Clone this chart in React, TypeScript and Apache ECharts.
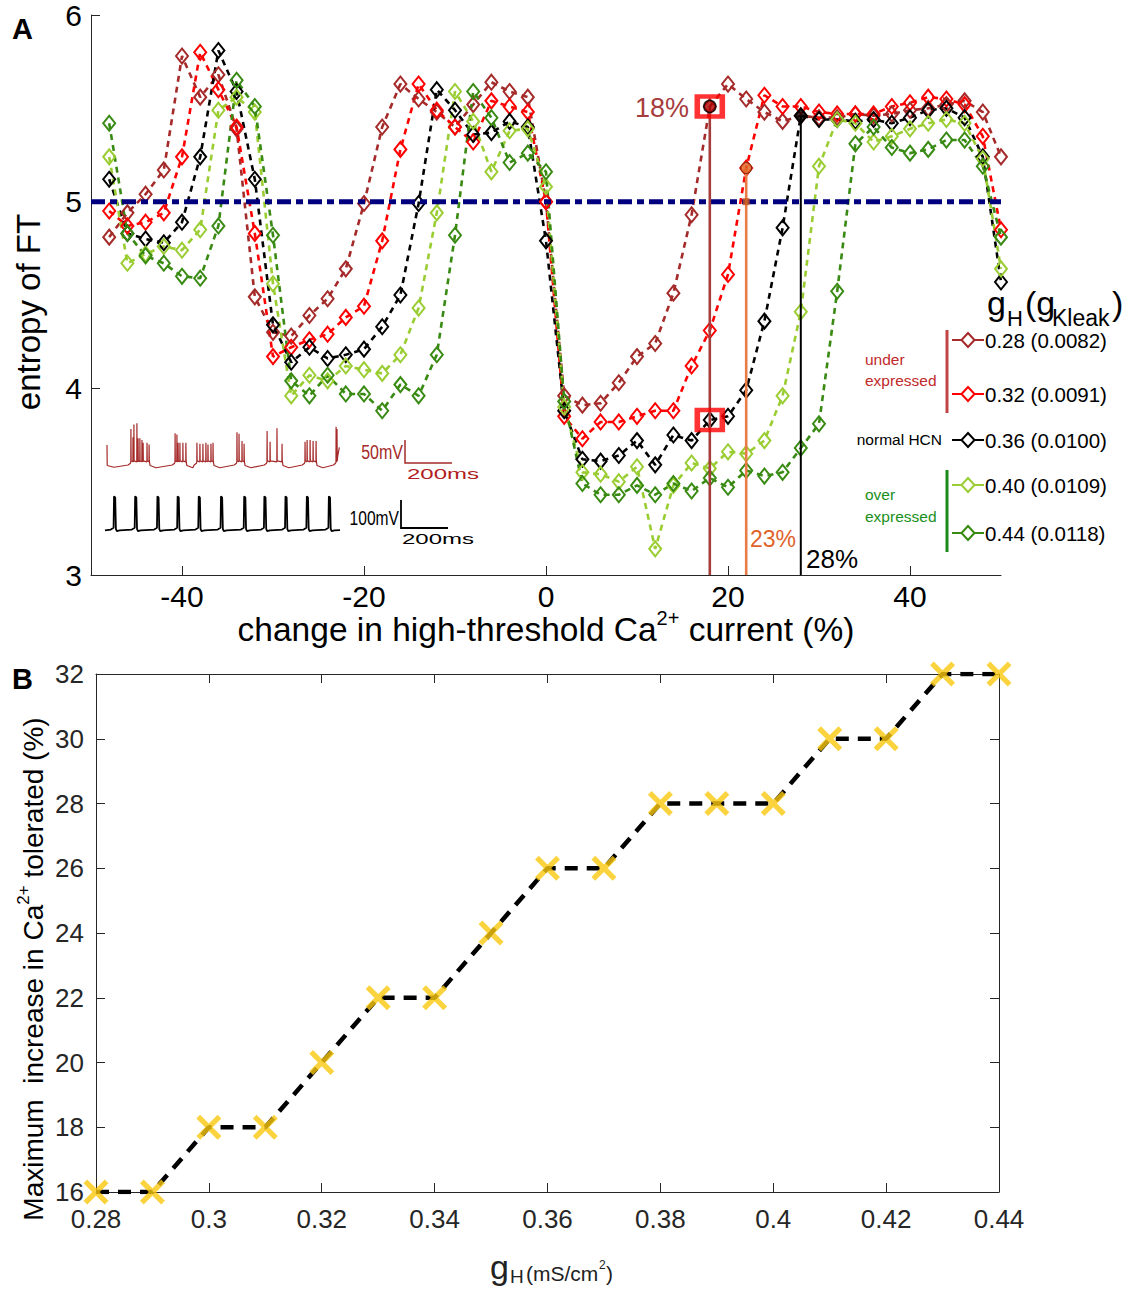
import React, { useEffect, useRef } from "react";
import * as echarts from "echarts";

const FONT = '"Liberation Sans", Arial, Helvetica, sans-serif';

// ---------------- Panel A data ----------------
const caChange = [-48, -46, -44, -42, -40, -38, -36, -34, -32, -30, -28, -26, -24, -22, -20, -18, -16, -14, -12, -10, -8, -6, -4, -2, 0, 2, 4, 6, 8, 10, 12, 14, 16, 18, 20, 22, 24, 26, 28, 30, 32, 34, 36, 38, 40, 42, 44, 46, 48, 50];

const ent028 = [4.81, 4.94, 5.04, 5.17, 5.78, 5.56, 5.68, 5.39, 4.49, 4.30,
  4.28, 4.39, 4.48, 4.64, 4.99, 5.40, 5.63, 5.55, 5.48, 5.40,
  5.52, 5.64, 5.59, 5.56, 5.00, 3.96, 3.91, 3.92, 4.03, 4.17,
  4.24, 4.51, 4.93, 5.51, 5.63, 5.55, 5.48, 5.43, 5.46, 5.45,
  5.45, 5.47, 5.46, 5.47, 5.49, 5.50, 5.52, 5.54, 5.48, 5.24];
const ent032 = [4.95, 4.87, 4.89, 4.94, 5.24, 5.80, 5.60, 5.40, 4.83, 4.17,
  4.22, 4.26, 4.29, 4.38, 4.44, 4.79, 5.28, 5.63, 5.49, 5.40,
  5.32, 5.54, 5.51, 5.48, 5.00, 3.85, 3.73, 3.82, 3.82, 3.85,
  3.88, 3.88, 4.12, 4.31, 4.61, 5.18, 5.57, 5.51, 5.51, 5.48,
  5.47, 5.47, 5.47, 5.51, 5.53, 5.56, 5.55, 5.52, 5.35, 4.85];
const ent036 = [5.12, 4.83, 4.80, 4.78, 4.89, 5.24, 5.81, 5.59, 5.12, 4.34,
  4.14, 4.22, 4.16, 4.18, 4.21, 4.33, 4.50, 4.99, 5.60, 5.49,
  5.36, 5.37, 5.43, 5.40, 4.79, 3.88, 3.62, 3.61, 3.64, 3.72,
  3.59, 3.75, 3.72, 3.83, 3.85, 3.99, 4.36, 4.86, 5.46, 5.44,
  5.44, 5.43, 5.44, 5.42, 5.45, 5.49, 5.50, 5.45, 5.24, 4.57];
const ent040 = [5.24, 4.67, 4.72, 4.76, 4.74, 4.85, 5.49, 5.56, 5.48, 4.56,
  3.96, 4.07, 4.04, 4.12, 4.10, 4.08, 4.18, 4.43, 4.94, 5.59,
  5.43, 5.16, 5.38, 5.39, 5.08, 3.90, 3.55, 3.54, 3.50, 3.58,
  3.14, 3.48, 3.60, 3.57, 3.66, 3.65, 3.72, 3.96, 4.41, 5.19,
  5.44, 5.42, 5.32, 5.35, 5.39, 5.42, 5.44, 5.42, 5.23, 4.64];
const ent044 = [5.42, 4.83, 4.71, 4.67, 4.60, 4.59, 4.87, 5.65, 5.51, 4.82,
  4.04, 3.96, 4.07, 3.97, 3.97, 3.88, 4.02, 3.96, 4.18, 4.82,
  5.59, 5.45, 5.21, 5.26, 5.16, 3.93, 3.49, 3.43, 3.43, 3.48,
  3.43, 3.49, 3.45, 3.52, 3.47, 3.56, 3.53, 3.55, 3.68, 3.81,
  4.52, 5.31, 5.40, 5.29, 5.26, 5.28, 5.33, 5.33, 5.19, 4.81];

const gHLabels = ["0.28", "0.32", "0.36", "0.40", "0.44"];
const gKleakLabels = ["0.0082", "0.0091", "0.0100", "0.0109", "0.0118"];
const seriesColors = ["#a52a2a", "#ff0000", "#000000", "#9acd32", "#388a12"];
const entropySeries = [ent028, ent032, ent036, ent040, ent044];

const xTicksA = [-40, -20, 0, 20, 40];
const entropyThreshold = 5.0;

// threshold markers: x position (%), entropy at top, label
const markX = [18, 22, 28];
const markY = [5.51, 5.18, 5.46];
const markLabels = ["18%", "23%", "28%"];
const boxedPoints = [[18, 5.51], [18, 3.83]];

// inset traces (spike times in ms, peaks in mV)
const blackSpikeTimes = [39, 130, 226, 313, 404, 500, 600, 687, 778, 870, 965];
const brownBursts = [
  [[104, 20], [113, 2], [117, 30], [130, 33], [135, 0], [143, 0], [152, -4], [157, -10], [174, -10], [183, -14]],
  [[296, 11], [304, 8], [309, -10], [317, -10], [330, -10], [343, -10]],
  [[391, -10], [404, -12], [417, -12], [430, -10], [439, -14], [452, -12], [461, -10]],
  [[565, 13], [574, 10], [587, -6], [596, -12]],
  [[696, 16], [709, -8], [739, 22], [761, -12]],
  [[861, -8], [870, -4], [883, -4], [896, -6], [909, -6]],
  [[996, 25], [1000, 20]],
];

// ---------------- Panel B data ----------------
const gH = [0.28, 0.29, 0.30, 0.31, 0.32, 0.33, 0.34, 0.35, 0.36, 0.37, 0.38, 0.39, 0.40, 0.41, 0.42, 0.43, 0.44];
const maxTolerated = [16, 16, 18, 18, 20, 22, 22, 24, 26, 26, 28, 28, 28, 30, 30, 32, 32];

const X_PATH = "path://M0,3 L3,0 L10,7 L17,0 L20,3 L13,10 L20,17 L17,20 L10,13 L3,20 L0,17 L7,10 Z";

function buildBlackTrace() {
  const pts: number[][] = [[0, -67]];
  blackSpikeTimes.forEach((t) => {
    pts.push([t - 14, -64], [t - 2, -58], [t, 55], [t + 5, 50], [t + 8, -62], [t + 12, -70], [t + 24, -67]);
  });
  pts.push([1013, -66]);
  return pts;
}

function buildBrownTrace() {
  const pts: number[][] = [[0, -15], [1, -60], [30, -64]];
  brownBursts.forEach((b, i) => {
    const t0 = b[0][0];
    const t1 = b[b.length - 1][0];
    pts.push([t0 - 12, -59], [t0 - 2, -55]);
    b.forEach(([t, p]) => {
      pts.push([t - 0.6, -52], [t, p], [t + 1, -50]);
    });
    if (i < brownBursts.length - 1) {
      pts.push([t1 + 4, -60], [t1 + 30, -65]);
    } else {
      pts.push([t1 + 3, -40], [1010, -20]);
    }
  });
  return pts;
}

const axisColor = "#262626";

export default function App() {
  const ref = useRef<HTMLDivElement>(null);
  useEffect(() => {
    if (!ref.current) return;
    const chart = echarts.init(ref.current, null, { renderer: "svg" });

    const seriesA = entropySeries.map((vals, k) => ({
      type: "line",
      xAxisIndex: 0,
      yAxisIndex: 0,
      silent: true,
      z: 2,
      data: caChange.map((x, i) => [x, vals[i]]),
      symbol: "diamond",
      symbolSize: [12, 15],
      lineStyle: { color: seriesColors[k], width: 2.6, type: [6, 5] },
      itemStyle: { color: "rgba(255,255,255,0)", borderColor: seriesColors[k], borderWidth: 2 },
    }));

    const vColors = ["#a63c3c", "#e87b46", "#000000"];
    const vLines = markX.map((x, i) => ({
      type: "line",
      xAxisIndex: 0,
      yAxisIndex: 0,
      silent: true,
      z: 4,
      symbol: "none",
      data: [[x, 3], [x, markY[i]]],
      lineStyle: { color: vColors[i], width: i === 2 ? 2 : 2.6, type: "solid" },
    }));

    const legendRowsY = [340, 394, 440, 485, 533];
    const graphics: any[] = [];
    // panel letters
    graphics.push({ type: "text", x: 12, y: 29, style: { text: "A", font: `bold 29px ${FONT}`, fill: "#000", verticalAlign: "middle" } });
    graphics.push({ type: "text", x: 12, y: 679, style: { text: "B", font: `bold 29px ${FONT}`, fill: "#000", verticalAlign: "middle" } });
    // A axis titles
    graphics.push({
      type: "text", x: 28, y: 312, rotation: Math.PI / 2,
      style: { text: "entropy of FT", font: `33px ${FONT}`, fill: "#000", align: "center", verticalAlign: "middle" },
    });
    graphics.push({
      type: "text", x: 546, y: 627,
      style: {
        text: "{n|change in high-threshold Ca}{s|2+}{n| current (%)}",
        align: "center", verticalAlign: "middle",
        rich: {
          n: { fontSize: 33.5, fontFamily: FONT, fill: "#000", lineHeight: 38, verticalAlign: "bottom" },
          s: { fontSize: 20, fontFamily: FONT, fill: "#000", lineHeight: 20, verticalAlign: "top" },
        },
      },
    });
    // B axis titles
    graphics.push({
      type: "text", x: 31, y: 969, rotation: Math.PI / 2,
      style: {
        text: "{n|Maximum  increase in Ca}{s|2+}{n| tolerated (%)}",
        align: "center", verticalAlign: "middle",
        rich: {
          n: { fontSize: 28, fontFamily: FONT, fill: "#000", lineHeight: 33, verticalAlign: "bottom" },
          s: { fontSize: 17, fontFamily: FONT, fill: "#000", lineHeight: 17, verticalAlign: "top" },
        },
      },
    });
    // B x title: gH(mS/cm2)
    graphics.push({ type: "text", x: 490, y: 1267, style: { text: "g", font: `34px ${FONT}`, fill: "#222", verticalAlign: "middle" } });
    graphics.push({ type: "text", x: 510, y: 1276, style: { text: "H", font: `19px ${FONT}`, fill: "#222", verticalAlign: "middle" } });
    graphics.push({ type: "text", x: 526, y: 1273, style: { text: "(mS/cm", font: `21px ${FONT}`, fill: "#222", verticalAlign: "middle" } });
    graphics.push({ type: "text", x: 599, y: 1265, style: { text: "2", font: `12px ${FONT}`, fill: "#222", verticalAlign: "middle" } });
    graphics.push({ type: "text", x: 606, y: 1273, style: { text: ")", font: `21px ${FONT}`, fill: "#222", verticalAlign: "middle" } });

    // marker labels
    graphics.push({ type: "text", x: 689, y: 108, style: { text: markLabels[0], font: `27px ${FONT}`, fill: "#a63c3c", align: "right", verticalAlign: "middle" } });
    graphics.push({ type: "text", x: 750, y: 539, style: { text: markLabels[1], font: `23px ${FONT}`, fill: "#e0622a", align: "left", verticalAlign: "middle" } });
    graphics.push({ type: "text", x: 806, y: 559, style: { text: markLabels[2], font: `26px ${FONT}`, fill: "#000", align: "left", verticalAlign: "middle" } });

    // Legend title gH(gKleak)
    graphics.push({ type: "text", x: 987, y: 303, style: { text: "g", font: `34px ${FONT}`, fill: "#000", verticalAlign: "middle" } });
    graphics.push({ type: "text", x: 1007, y: 318, style: { text: "H", font: `22px ${FONT}`, fill: "#000", verticalAlign: "middle" } });
    graphics.push({ type: "text", x: 1025, y: 303, style: { text: "(g", font: `34px ${FONT}`, fill: "#000", verticalAlign: "middle" } });
    graphics.push({ type: "text", x: 1052, y: 318, style: { text: "Kleak", font: `23px ${FONT}`, fill: "#000", verticalAlign: "middle" } });
    graphics.push({ type: "text", x: 1112, y: 303, style: { text: ")", font: `34px ${FONT}`, fill: "#000", verticalAlign: "middle" } });

    legendRowsY.forEach((y, i) => {
      const c = seriesColors[i];
      graphics.push({ type: "line", shape: { x1: 952, y1: y, x2: 984, y2: y }, style: { stroke: c, lineWidth: 2 } });
      graphics.push({
        type: "polygon",
        shape: { points: [[968, y - 7], [974.5, y], [968, y + 7], [961.5, y]] },
        style: { fill: "#fff", stroke: c, lineWidth: 2 },
      });
      graphics.push({
        type: "text", x: 985, y: y,
        style: { text: `${gHLabels[i]} (${gKleakLabels[i]})`, font: `20.5px ${FONT}`, fill: "#000", verticalAlign: "middle" },
      });
    });
    // group labels
    graphics.push({ type: "text", x: 865, y: 359, style: { text: "under", font: `15.5px ${FONT}`, fill: "#bf2a2a", verticalAlign: "middle" } });
    graphics.push({ type: "text", x: 865, y: 380, style: { text: "expressed", font: `15.5px ${FONT}`, fill: "#bf2a2a", verticalAlign: "middle" } });
    graphics.push({ type: "line", shape: { x1: 947, y1: 330, x2: 947, y2: 413 }, style: { stroke: "#c04444", lineWidth: 3 } });
    graphics.push({ type: "text", x: 942, y: 439, style: { text: "normal HCN", font: `15.5px ${FONT}`, fill: "#000", align: "right", verticalAlign: "middle" } });
    graphics.push({ type: "text", x: 865, y: 494, style: { text: "over", font: `15.5px ${FONT}`, fill: "#1a8f1a", verticalAlign: "middle" } });
    graphics.push({ type: "text", x: 865, y: 516, style: { text: "expressed", font: `15.5px ${FONT}`, fill: "#1a8f1a", verticalAlign: "middle" } });
    graphics.push({ type: "line", shape: { x1: 947, y1: 470, x2: 947, y2: 552 }, style: { stroke: "#1a8a1a", lineWidth: 3 } });

    // scale bars for insets
    const brownBar = "#a52a2a";
    graphics.push({ type: "polyline", shape: { points: [[405, 440], [405, 463], [452, 463]] }, style: { stroke: brownBar, lineWidth: 1.5, fill: "none" } });
    graphics.push({ type: "text", x: 403, y: 452, scaleX: 0.8, style: { text: "50mV", font: `20px ${FONT}`, fill: brownBar, align: "right", verticalAlign: "middle" } });
    graphics.push({ type: "text", x: 407, y: 474, scaleX: 1.6, style: { text: "200ms", font: `15px ${FONT}`, fill: "#b02020", align: "left", verticalAlign: "middle" } });
    graphics.push({ type: "polyline", shape: { points: [[401, 500], [401, 528], [448, 528]] }, style: { stroke: "#000", lineWidth: 1.8, fill: "none" } });
    graphics.push({ type: "text", x: 399, y: 518, scaleX: 0.78, style: { text: "100mV", font: `20px ${FONT}`, fill: "#000", align: "right", verticalAlign: "middle" } });
    graphics.push({ type: "text", x: 402, y: 539, scaleX: 1.6, style: { text: "200ms", font: `15px ${FONT}`, fill: "#000", align: "left", verticalAlign: "middle" } });

    const baseAxisA = {
      axisLine: { show: true, onZero: false, lineStyle: { color: axisColor, width: 1 } },
      splitLine: { show: false },
    };

    const option: any = {
      animation: false,
      textStyle: { fontFamily: FONT },
      grid: [
        { left: 91, right: 127, top: 14, bottom: 715 },
        { left: 96, right: 129, top: 674, bottom: 98 },
        { left: 107, width: 233, top: 420, height: 50 },
        { left: 105, width: 235, top: 494, height: 40 },
      ],
      xAxis: [
        {
          ...baseAxisA, gridIndex: 0, type: "value", min: -50, max: 50,
          axisTick: { show: true, inside: true, length: 9, customValues: xTicksA, lineStyle: { color: axisColor } },
          axisLabel: { customValues: xTicksA, fontSize: 30, color: "#000", margin: 6, fontFamily: FONT },
        },
        {
          ...baseAxisA, gridIndex: 1, type: "value", min: 0.28, max: 0.44, interval: 0.02, position: "bottom",
          axisTick: { show: true, inside: true, length: 9, lineStyle: { color: axisColor } },
          axisLabel: { fontSize: 26, color: "#262626", margin: 14, fontFamily: FONT, showMinLabel: true, showMaxLabel: true },
        },
        {
          ...baseAxisA, gridIndex: 1, type: "value", min: 0.28, max: 0.44, interval: 0.02, position: "top",
          axisTick: { show: true, inside: true, length: 9, lineStyle: { color: axisColor } },
          axisLabel: { show: false },
        },
        { gridIndex: 2, type: "value", min: 0, max: 1013, show: false },
        { gridIndex: 3, type: "value", min: 0, max: 1013, show: false },
      ],
      yAxis: [
        {
          ...baseAxisA, gridIndex: 0, type: "value", min: 3, max: 6, interval: 1,
          axisTick: { show: true, inside: true, length: 9, lineStyle: { color: axisColor } },
          axisLabel: { fontSize: 30, color: "#000", margin: 9, fontFamily: FONT },
        },
        {
          ...baseAxisA, gridIndex: 1, type: "value", min: 16, max: 32, interval: 2, position: "left",
          axisTick: { show: true, inside: true, length: 9, lineStyle: { color: axisColor } },
          axisLabel: { fontSize: 26, color: "#262626", margin: 12, fontFamily: FONT },
        },
        {
          ...baseAxisA, gridIndex: 1, type: "value", min: 16, max: 32, interval: 2, position: "right",
          axisTick: { show: true, inside: true, length: 9, lineStyle: { color: axisColor } },
          axisLabel: { show: false },
        },
        { gridIndex: 2, type: "value", min: -70, max: 40, show: false },
        { gridIndex: 3, type: "value", min: -80, max: 63, show: false },
      ],
      series: [
        ...seriesA,
        {
          type: "line", xAxisIndex: 0, yAxisIndex: 0, silent: true, z: 3, symbol: "none",
          data: [[-50, entropyThreshold], [50, entropyThreshold]],
          lineStyle: { color: "#00007f", width: 5, type: [14, 5, 7, 5] },
        },
        ...vLines,
        {
          type: "scatter", xAxisIndex: 0, yAxisIndex: 0, silent: true, z: 6,
          symbol: "rect", symbolSize: [25, 20],
          data: boxedPoints,
          itemStyle: { color: "rgba(255,255,255,0)", borderColor: "#ff0000", borderWidth: 5 },
        },
        {
          type: "scatter", xAxisIndex: 0, yAxisIndex: 0, silent: true, z: 7,
          symbol: "circle", symbolSize: 12,
          data: [[markX[0], markY[0]]],
          itemStyle: { color: "#b00000", borderColor: "#000", borderWidth: 1.5 },
        },
        {
          type: "scatter", xAxisIndex: 0, yAxisIndex: 0, silent: true, z: 7,
          symbol: "circle", symbolSize: 11,
          data: [[markX[1], markY[1]]],
          itemStyle: { color: "#e0621f", borderColor: "#5a2a10", borderWidth: 1 },
        },
        {
          type: "scatter", xAxisIndex: 0, yAxisIndex: 0, silent: true, z: 7,
          symbol: "rect", symbolSize: 7,
          data: [[markX[1], entropyThreshold]],
          itemStyle: { color: "#c85a20" },
        },
        {
          type: "scatter", xAxisIndex: 0, yAxisIndex: 0, silent: true, z: 7,
          symbol: "diamond", symbolSize: [12, 15],
          data: [[markX[2], markY[2]]],
          itemStyle: { color: "#000" },
        },
        // insets
        {
          type: "line", xAxisIndex: 3, yAxisIndex: 3, silent: true, symbol: "none",
          data: buildBrownTrace(),
          lineStyle: { color: "#a52a2a", width: 1.2 },
        },
        {
          type: "line", xAxisIndex: 4, yAxisIndex: 4, silent: true, symbol: "none",
          data: buildBlackTrace(),
          lineStyle: { color: "#000", width: 1.8 },
        },
        // panel B
        {
          type: "line", xAxisIndex: 1, yAxisIndex: 1, silent: true, z: 3, symbol: "none",
          data: gH.map((g, i) => [g, maxTolerated[i]]),
          lineStyle: { color: "#000", width: 4.5, type: [13, 9] },
        },
        {
          type: "scatter", xAxisIndex: 1, yAxisIndex: 1, silent: true, z: 5,
          symbol: X_PATH, symbolSize: 25,
          data: gH.map((g, i) => [g, maxTolerated[i]]),
          itemStyle: { color: "#f9c80e" },
        },
      ],
      graphic: graphics,
    };
    chart.setOption(option);
    return () => chart.dispose();
  }, []);
  return <div ref={ref} style={{ position: "absolute", left: 0, top: 0, width: 1128, height: 1290, background: "#fff" }} />;
}
